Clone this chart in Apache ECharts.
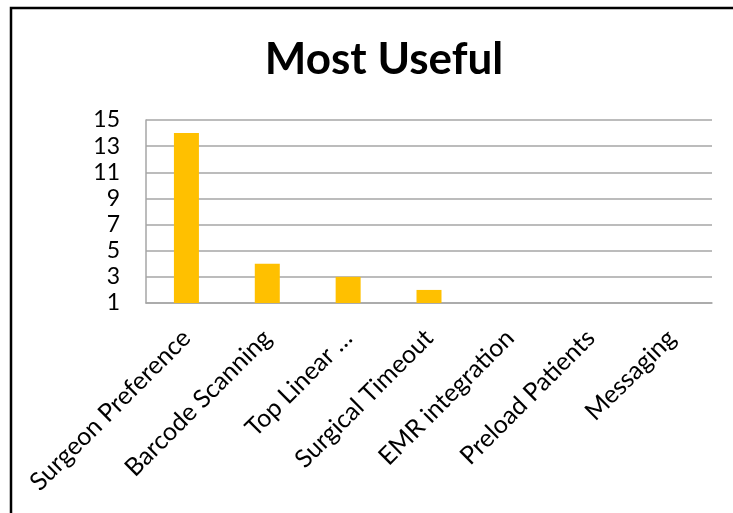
<!DOCTYPE html>
<html>
<head>
<meta charset="utf-8">
<script src="https://cdn.jsdelivr.net/npm/echarts@6/dist/echarts.min.js"></script>
<style>
html,body{margin:0;padding:0;background:#fff;}
#chart{width:733px;height:513px;}
</style>
</head>
<body>
<div id="chart"></div>
<script>
const categories = ["Surgeon Preference", "Barcode Scanning", "Top Linear \u2026", "Surgical Timeout", "EMR integration", "Preload Patients", "Messaging"];
const values = [14, 4, 3, 2, 1, 1, 1];
const yTicks = [1, 3, 5, 7, 9, 11, 13, 15];

const chart = echarts.init(document.getElementById('chart'), null, {renderer: 'canvas'});
const FONT = 'Lato';
chart.setOption({
  animation: false,
  backgroundColor: '#fff',
  title: {
    text: 'Most Useful',
    left: 379,
    textAlign: 'center',
    top: 33,
    textStyle: {fontFamily: FONT, fontWeight: 'bold', fontSize: 44, color: '#000'}
  },
  graphic: [{
    type: 'rect',
    shape: {x: 11, y: 8, width: 900, height: 700},
    style: {fill: 'none', stroke: '#000', lineWidth: 2.5},
    silent: true
  }],
  grid: {left: 146, right: 21, top: 120, bottom: 210, containLabel: false},
  xAxis: {
    type: 'category',
    data: categories,
    axisLine: {show: true, lineStyle: {color: '#A6A6A6', width: 1.5}},
    axisTick: {show: false},
    axisLabel: {
      interval: 0,
      rotate: 45,
      margin: 31,
      fontFamily: FONT,
      fontSize: 25,
      color: '#000'
    }
  },
  yAxis: {
    type: 'value',
    min: yTicks[0],
    max: yTicks[yTicks.length - 1],
    interval: 2,
    axisLine: {show: true, lineStyle: {color: '#A6A6A6', width: 1.5}},
    axisTick: {show: false},
    splitLine: {show: true, lineStyle: {color: '#A6A6A6', width: 1.5}},
    axisLabel: {
      margin: 26,
      fontFamily: FONT,
      fontSize: 23,
      color: '#000',
      customValues: yTicks
    }
  },
  series: [{
    type: 'bar',
    data: values,
    barWidth: 25,
    itemStyle: {color: '#FFC000'}
  }]
});
</script>
</body>
</html>
